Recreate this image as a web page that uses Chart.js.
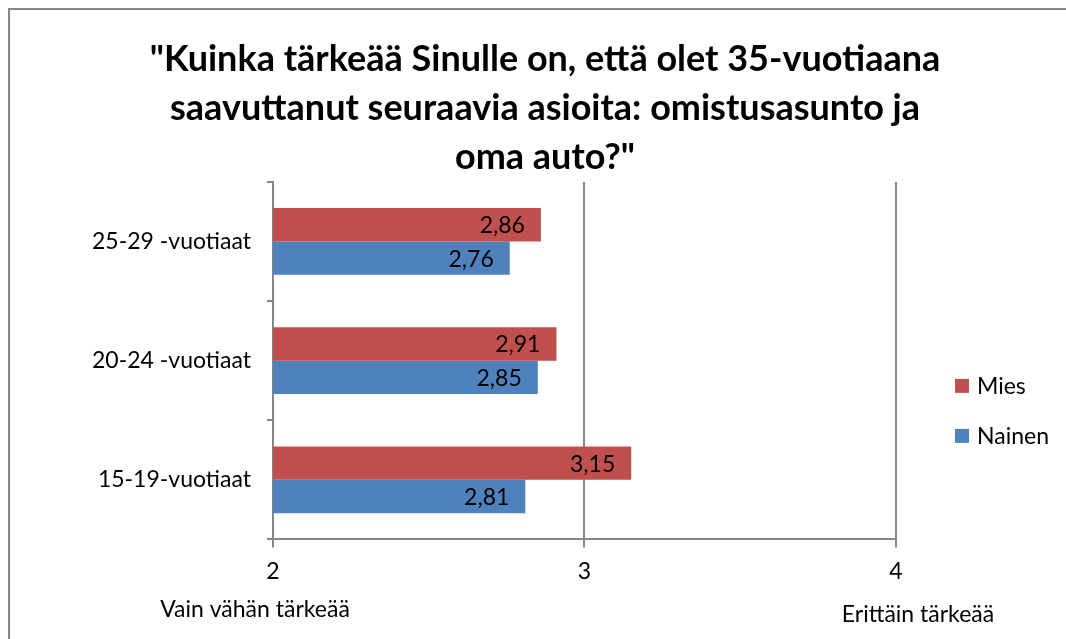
<!DOCTYPE html>
<html lang="fi">
<head>
    <meta charset="UTF-8">
    <title>Omistusasunto ja oma auto</title>
    <style>
        body {
            margin: 0;
            padding: 0;
            background-color: #fff;
            overflow: hidden;
            font-family: Lato, sans-serif;
        }

        /* Frame round the chart, only top and left edges fit in the window */
        .frame {
            position: absolute;
            left: 8px;
            top: 8px;
            width: 1100px;
            height: 700px;
            border: 2px solid #888;
        }

        .chart-box {
            position: absolute;
            left: 0;
            top: 0;
            width: 1066px;
            height: 639px;
        }
    </style>
    <script src="https://cdn.jsdelivr.net/npm/chart.js"></script>
</head>
<body>
    <div class="frame"></div>
    <div class="chart-box">
        <canvas id="chart"></canvas>
    </div>

    <script>
        const categories = ['25-29 -vuotiaat', '20-24 -vuotiaat', '15-19-vuotiaat'];
        const miesValues = [2.86, 2.91, 3.15];
        const nainenValues = [2.76, 2.85, 2.81];
        const xTicks = [2, 3, 4];
        const xEndLabels = ['Vain vähän tärkeää', 'Erittäin tärkeää'];
        const titleLines = [
            '"Kuinka tärkeää Sinulle on, että olet 35-vuotiaana',
            'saavuttanut seuraavia asioita: omistusasunto ja',
            'oma auto?"'
        ];

        const FONT = 'Lato, sans-serif';

        // Values written at the inner end of each bar
        const barValueLabels = {
            id: 'barValueLabels',
            afterDatasetsDraw(chart) {
                const ctx = chart.ctx;
                ctx.save();
                ctx.font = '23px ' + FONT;
                ctx.fillStyle = '#000';
                ctx.textAlign = 'right';
                ctx.textBaseline = 'middle';
                chart.data.datasets.forEach((ds, i) => {
                    chart.getDatasetMeta(i).data.forEach((bar, j) => {
                        const txt = ds.data[j].toFixed(2).replace('.', ',');
                        ctx.fillText(txt, bar.x - 16, bar.y + 1);
                    });
                });
                ctx.restore();
            }
        };

        // Words under the first and last tick of the x axis
        const axisEndLabels = {
            id: 'axisEndLabels',
            afterDraw(chart) {
                const ctx = chart.ctx;
                const sx = chart.scales.x;
                const base = chart.chartArea.bottom;
                ctx.save();
                ctx.font = '23px ' + FONT;
                ctx.fillStyle = '#000';
                ctx.textAlign = 'center';
                ctx.textBaseline = 'middle';
                ctx.fillText(xEndLabels[0], sx.getPixelForValue(xTicks[0]) - 18, base + 70);
                ctx.fillText(xEndLabels[1], sx.getPixelForValue(xTicks[2]) + 22, base + 75);
                ctx.restore();
            }
        };

        // Legend to the right of the plot, Mies above Nainen
        const sideLegend = {
            id: 'sideLegend',
            afterDraw(chart) {
                const ctx = chart.ctx;
                const area = chart.chartArea;
                const x = area.right + 59;
                let y = area.top + 204;
                ctx.save();
                ctx.font = '23px ' + FONT;
                ctx.textAlign = 'left';
                ctx.textBaseline = 'middle';
                chart.data.datasets.forEach(ds => {
                    ctx.fillStyle = ds.backgroundColor;
                    ctx.fillRect(x, y - 7, 14, 14);
                    ctx.fillStyle = '#000';
                    ctx.fillText(ds.label, x + 22, y + 1);
                    y += 50;
                });
                ctx.restore();
            }
        };

        new Chart(document.getElementById('chart').getContext('2d'), {
            type: 'bar',
            data: {
                labels: categories,
                datasets: [
                    {
                        label: 'Mies',
                        data: miesValues,
                        backgroundColor: '#C0504D',
                        borderWidth: 0
                    },
                    {
                        label: 'Nainen',
                        data: nainenValues,
                        backgroundColor: '#4F81BD',
                        borderWidth: 0
                    }
                ]
            },
            options: {
                indexAxis: 'y',
                responsive: true,
                maintainAspectRatio: false,
                animation: false,
                datasets: {
                    bar: {
                        barPercentage: 1.0,
                        categoryPercentage: 0.56
                    }
                },
                layout: {
                    padding: { left: 76, right: 52, top: 18, bottom: 44 }
                },
                scales: {
                    x: {
                        min: 2,
                        max: 4,
                        afterBuildTicks(scale) {
                            scale.ticks = xTicks.map(v => ({ value: v }));
                        },
                        grid: {
                            color: '#868686',
                            lineWidth: 2,
                            tickLength: 8,
                            drawTicks: true
                        },
                        border: { color: '#868686', width: 2 },
                        ticks: {
                            color: '#000',
                            font: { family: FONT, size: 23 },
                            padding: 10
                        }
                    },
                    y: {
                        grid: {
                            display: true,
                            drawOnChartArea: false,
                            color: '#868686',
                            lineWidth: 2,
                            tickLength: 6,
                            offset: true
                        },
                        border: { color: '#868686', width: 2 },
                        ticks: {
                            color: '#000',
                            font: { family: FONT, size: 23 },
                            padding: 16
                        }
                    },
                    // empty strip on the right that keeps room for the legend
                    legendRoom: {
                        type: 'linear',
                        axis: 'y',
                        position: 'right',
                        grid: { display: false },
                        border: { display: false },
                        ticks: { display: false },
                        afterFit(scale) {
                            scale.width = 118;
                        }
                    }
                },
                plugins: {
                    title: {
                        display: true,
                        text: titleLines,
                        color: '#000',
                        font: { family: FONT, size: 36, weight: 'bold', lineHeight: 1.36 },
                        padding: { top: 17, bottom: 0 }
                    },
                    legend: { display: false },
                    tooltip: { enabled: false }
                }
            },
            plugins: [barValueLabels, axisEndLabels, sideLegend]
        });
    </script>
</body>
</html>
